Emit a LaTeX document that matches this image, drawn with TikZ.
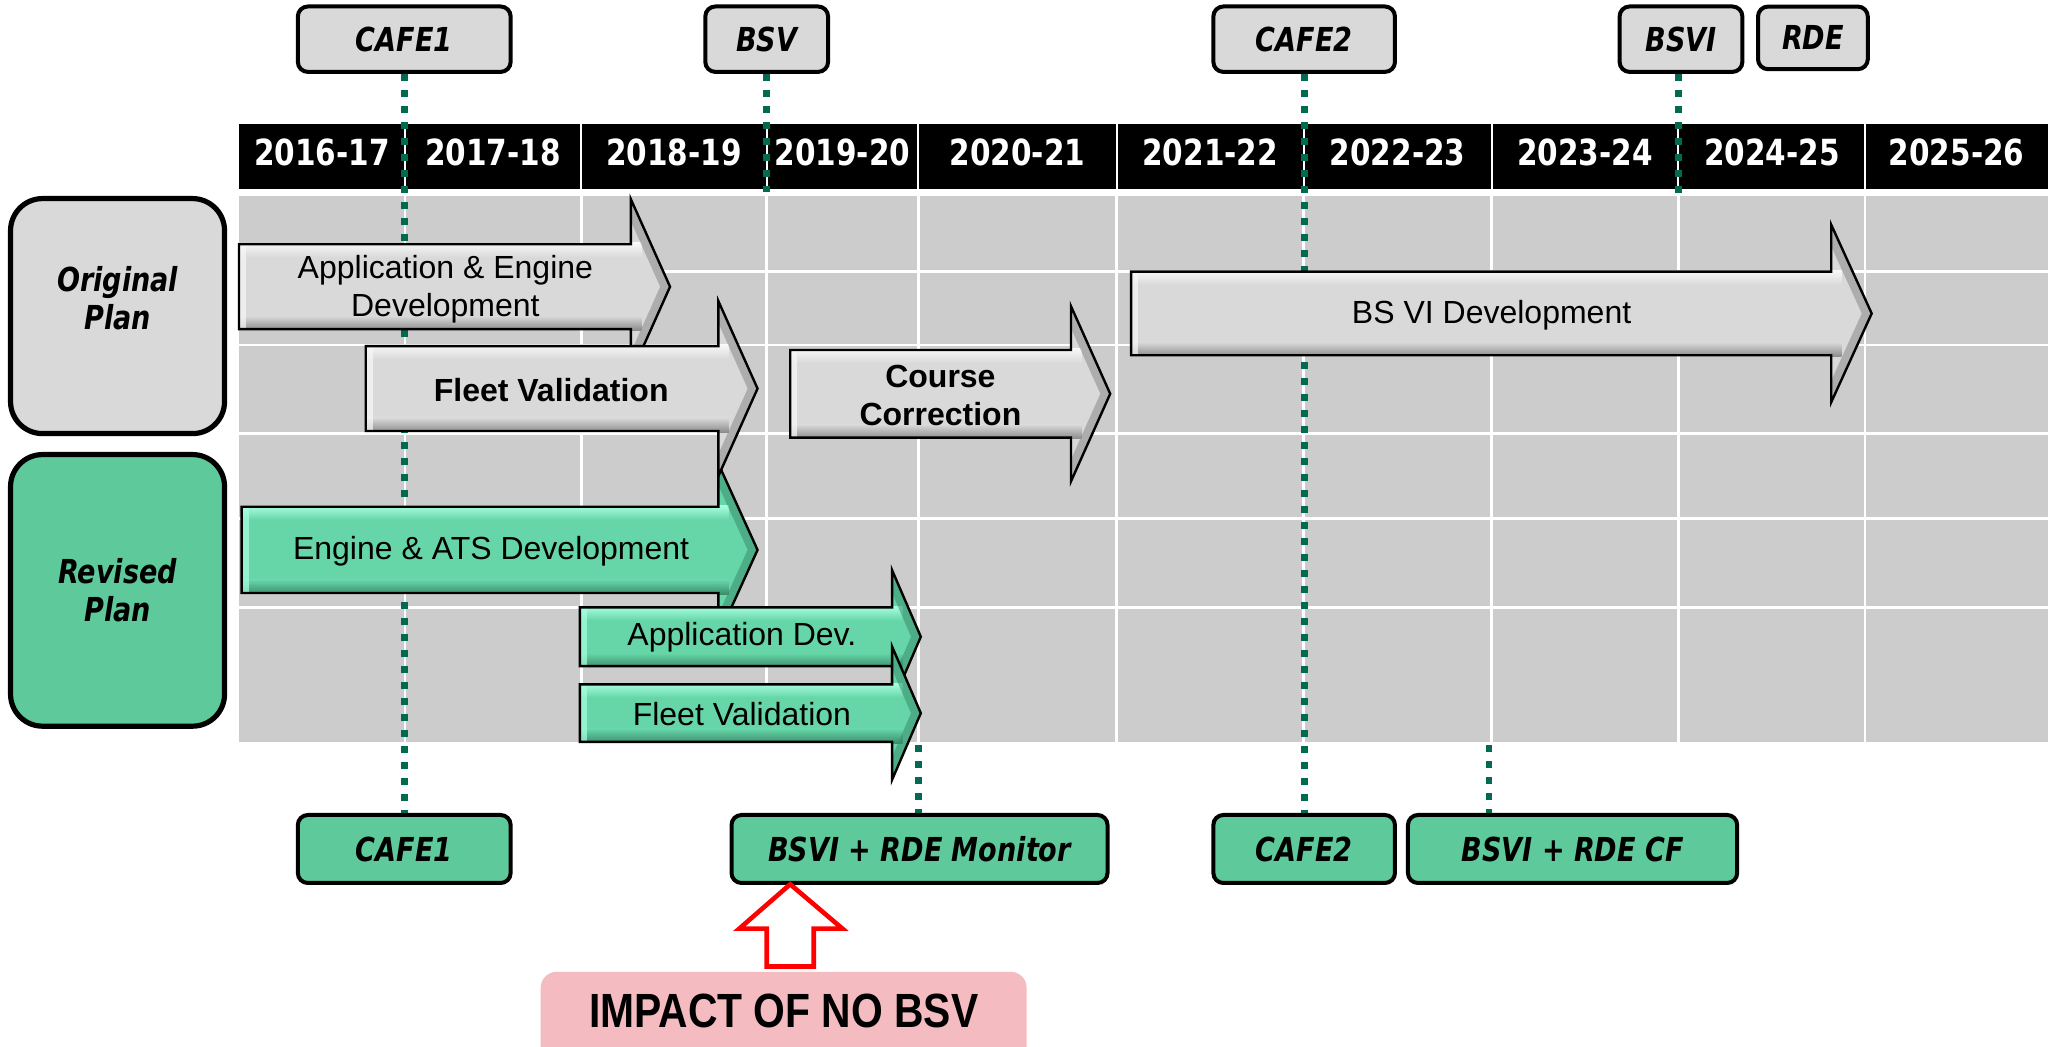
\documentclass[tikz,border=0pt]{standalone}
\usepackage{fontspec}
\setmainfont{Liberation Sans}
\newfontfamily\tah[FakeStretch=0.82]{DejaVu Sans}
\definecolor{boxgray}{HTML}{D9D9D9}
\definecolor{boxgreen}{HTML}{5EC99B}
\definecolor{gridgray}{HTML}{CCCCCC}
\definecolor{msgreen}{HTML}{006B50}
\definecolor{pinkbox}{HTML}{F4BBC1}
\definecolor{graybase}{HTML}{D9D9D9}
\definecolor{graylight}{HTML}{F8F8F8}
\definecolor{graydark}{HTML}{8A8A8A}
\definecolor{greenbase}{HTML}{66D6A8}
\definecolor{greenlight}{HTML}{A8FFE0}
\definecolor{greendark}{HTML}{3A8C6B}
\tikzset{
  topbox/.style={draw=black, line width=2pt, rounded corners=5pt, fill=boxgray, inner sep=0pt,
    font=\tah\bfseries\itshape\fontsize{16.5}{19}\selectfont},
  botbox/.style={topbox, fill=boxgreen},
  planbox/.style={draw=black, line width=2.6pt, rounded corners=16pt, inner sep=0pt},
  plantext/.style={font=\tah\bfseries\itshape\fontsize{16.5}{19}\selectfont, align=center, inner sep=0pt},
  year/.style={text=white, font=\tah\bfseries\fontsize{18}{20}\selectfont, inner sep=0pt},
  arrtext/.style={font=\fontsize{16}{19}\selectfont, align=center, inner sep=0pt},
  arrbold/.style={font=\bfseries\fontsize{16}{19}\selectfont, align=center, inner sep=0pt},
  milestone/.style={draw=msgreen, line width=3.4pt, dash pattern=on 3.6pt off 4.4pt},
}
% #1 x0, #2 head base x, #3 tip x, #4 centre y, #5 half body, #6 half head, #7 colour set
\newcommand{\bevarrow}[7]{%
  \begin{scope}
    \clip ({#1},{#4-#5}) -- ({#2},{#4-#5}) -- ({#2},{#4-#6}) -- ({#3},{#4}) -- ({#2},{#4+#6}) -- ({#2},{#4+#5}) -- ({#1},{#4+#5}) -- cycle;
    \fill[#7base] ({#1-5},{#4-#6-5}) rectangle ({#3+5},{#4+#6+5});
    \shade[top color=#7light, bottom color=#7base] ({#1-2},{#4-#5-1}) rectangle ({#2+8},{#4-#5+10});
    \shade[top color=#7base, bottom color=#7dark] ({#1-2},{#4+#5-10}) rectangle ({#2+8},{#4+#5+1});
    \draw[#7dark, line width=9pt, opacity=.55] ({#2},{#4-#6}) -- ({#3},{#4}) -- ({#2},{#4+#6});
    \draw[#7light, line width=7pt, opacity=.7] ({#1},{#4-#5}) -- ({#1},{#4+#5});
  \end{scope}
  \draw[black, line width=1.2pt, line join=miter]
    ({#1},{#4-#5}) -- ({#2},{#4-#5}) -- ({#2},{#4-#6}) -- ({#3},{#4}) -- ({#2},{#4+#6}) -- ({#2},{#4+#5}) -- ({#1},{#4+#5}) -- cycle;
}
\begin{document}
\begin{tikzpicture}[x=0.653pt,y=-0.653pt]
\useasboundingbox (0,0) rectangle (1568,801);
\fill[white] (0,0) rectangle (1568,801);

% header
\fill[black] (183,95) rectangle (1568,145);
\foreach \x in {310,445,587,703,855,998,1142,1285,1428}
  \draw[white, line width=1pt] (\x,95) -- (\x,145);
\foreach \x/\t/\n in {246.5/2016-17/ya, 377.5/2017-18/yb, 516/2018-19/yc, 645/2019-20/yd,
  779/2020-21/ye, 926.5/2021-22/yf, 1070/2022-23/yg, 1213.5/2023-24/yh, 1356.5/2024-25/yi, 1498/2025-26/yj}
  \node[year] (\n) at (\x,117) {\t};

% grid
\fill[gridgray] (183,150) rectangle (1568,568);
\foreach \x in {310,445,587,703,855,998,1142,1285,1428}
  \draw[white, line width=1.3pt] (\x,150) -- (\x,568);
\foreach \y in {208,264,332,397,465}
  \draw[white, line width=1.3pt] (183,\y) -- (1568,\y);

% plan boxes
\node[planbox, fill=boxgray, minimum width=107pt, minimum height=117.5pt] (origbox) at (90,242) {};
\node[plantext] (origtext) at (90,228) {Original\\Plan};
\node[planbox, fill=boxgreen, minimum width=107pt, minimum height=135.8pt] (revbox) at (90,452) {};
\node[plantext] (revtext) at (90,452) {Revised\\Plan};

% milestone boxes (top)
\node[topbox, minimum width=106.4pt, minimum height=32.7pt] (cafe1t) at (309.5,30) {CAFE1};
\node[topbox, minimum width=61.4pt, minimum height=32.7pt] (bsvt) at (587,30) {BSV};
\node[topbox, minimum width=90.8pt, minimum height=32.7pt] (cafe2t) at (998.5,30) {CAFE2};
\node[topbox, minimum width=61.4pt, minimum height=32.7pt] (bsvit) at (1287,30) {BSVI};
\node[topbox, minimum width=54.9pt, minimum height=31.3pt] (rdet) at (1388,29) {RDE};

% milestone boxes (bottom)
\node[botbox, minimum width=106.4pt, minimum height=34pt] (cafe1b) at (309.5,650) {CAFE1};
\node[botbox, minimum width=188pt, minimum height=34pt] (monb) at (704,650) {BSVI + RDE Monitor};
\node[botbox, minimum width=90.8pt, minimum height=34pt] (cafe2b) at (998.5,650) {CAFE2};
\node[botbox, minimum width=164.6pt, minimum height=34pt] (cfb) at (1204,650) {BSVI + RDE CF};

% impact
\fill[pinkbox, rounded corners=8pt] (414,744) rectangle (786,830);
\node[font=\bfseries\fontsize{24}{26}\selectfont, inner sep=0pt] (impact) at (600,774)
  {\addfontfeature{FakeStretch=0.85}IMPACT OF NO BSV};
\draw[red, line width=2.3pt, fill=white, line join=miter]
  (605,677) -- (645,711) -- (623,711) -- (623,740) -- (587,740) -- (587,711) -- (566,711) -- cycle;

% milestone lines
\draw[milestone] (cafe1t.south) -- (cafe1b.north);
\coordinate (bsvend) at (587,147);
\draw[milestone] (bsvend |- bsvt.south) -- (bsvend);
\draw[milestone] (cafe2t.south) -- (cafe2b.north);
\coordinate (bsviend) at (1285,150);
\draw[milestone] (bsviend |- bsvit.south) -- (bsviend);
\coordinate (monstart) at (703,570);
\draw[milestone] (monstart) -- (monstart |- monb.north);
\coordinate (cfstart) at (1140,570);
\draw[milestone] (cfstart) -- (cfstart |- cfb.north);

% activity arrows
\bevarrow{185}{550}{580}{421}{33}{66}{green}
\bevarrow{183}{483}{513}{219.5}{32.5}{67}{gray}
\bevarrow{280}{550}{580}{297.5}{32.5}{67}{gray}
\bevarrow{605}{820}{850}{301.5}{33.5}{67}{gray}
\bevarrow{866}{1402}{1433}{240}{32}{68}{gray}
\bevarrow{444}{683}{705}{487.5}{22.5}{51}{green}
\bevarrow{444}{683}{705}{546}{22}{51}{green}

\node[arrtext] (appeng) at (341,221.5) {Application \& Engine\\Development};
\node[arrbold] (fleetorig) at (422,299) {Fleet Validation};
\node[arrbold] (course) at (720,303) {Course\\Correction};
\node[arrtext] (bsvidev) at (1142,241) {BS VI Development};
\node[arrtext] (engats) at (376,422) {Engine \& ATS Development};
\node[arrtext] (appdev) at (568,488) {Application Dev.};
\node[arrtext] (fleetrev) at (568,547) {Fleet Validation};
\end{tikzpicture}
\end{document}
